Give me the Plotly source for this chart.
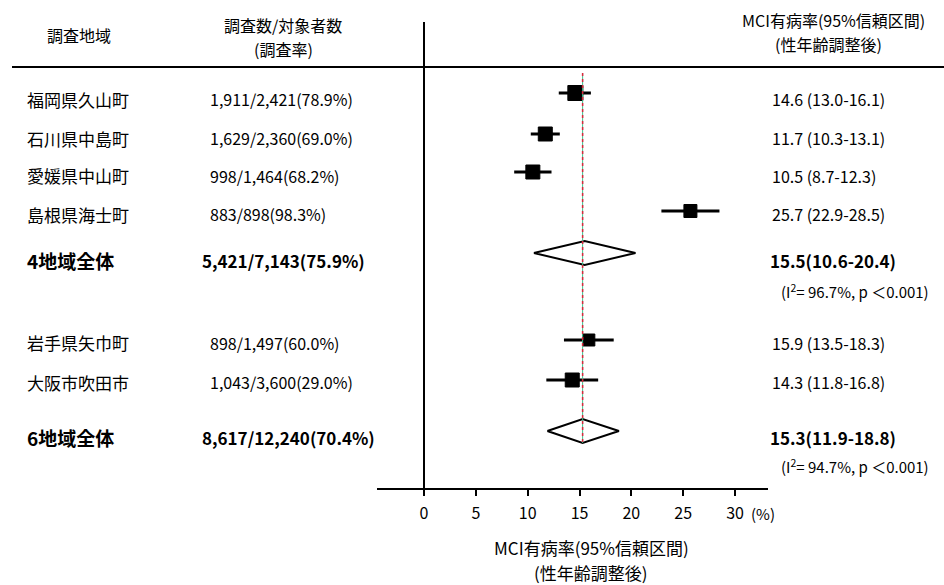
import plotly.graph_objects as go

# ---- study-level data -------------------------------------------------------
regions = ["福岡県久山町", "石川県中島町", "愛媛県中山町", "島根県海士町", "岩手県矢巾町", "大阪市吹田市"]
surveyed = [1911, 1629, 998, 883, 898, 1043]
targets = [2421, 2360, 1464, 898, 1497, 3600]
response_rate = [78.9, 69.0, 68.2, 98.3, 60.0, 29.0]
prevalence = [14.6, 11.7, 10.5, 25.7, 15.9, 14.3]
ci_low = [13.0, 10.3, 8.7, 22.9, 13.5, 11.8]
ci_high = [16.1, 13.1, 12.3, 28.5, 18.3, 16.8]

# ---- pooled estimates -------------------------------------------------------
pooled_labels = ["4地域全体", "6地域全体"]
pooled_surveyed = [5421, 8617]
pooled_targets = [7143, 12240]
pooled_rate = [75.9, 70.4]
pooled_est = [15.5, 15.3]
pooled_low = [10.6, 11.9]
pooled_high = [20.4, 18.8]
pooled_i2 = [96.7, 94.7]
pooled_p = ["0.001", "0.001"]

x_ticks = [0, 5, 10, 15, 20, 25, 30]

# ---- layout (pixel rows, y axis runs top->bottom) --------------------------
study_marker_y = [93, 134, 172, 211, 340, 380]
study_text_y = [99, 138, 176, 214, 343, 382]
study_marker_size = [15, 14, 14, 13, 12, 14]
pooled_marker_y = [253, 431]
pooled_text_y = [260, 437]
het_text_y = [291, 466]
diamond_half_h = 12

W, H = 944, 585
L, R = 377, 768          # plot area horizontal extent (px)
AX_Y = 488               # x-axis line (px)
PX0, PX30 = 424, 735     # pixel of 0% and 30%
scale = (PX30 - PX0) / 30.0
x_min = (L - PX0) / scale
x_max = (R - PX0) / scale

JP = "Noto Sans CJK JP"
NUM = "Noto Sans CJK JP"


def px_x(px):
    return (px - L) / (R - L)


def px_y(py):
    return (AX_Y - py) / AX_Y


fig = go.Figure()

# confidence intervals
for e, lo, hi, y in zip(prevalence, ci_low, ci_high, study_marker_y):
    fig.add_trace(go.Scatter(x=[lo, hi], y=[y, y], mode="lines",
                             line=dict(color="black", width=3),
                             hoverinfo="skip", showlegend=False))

# point estimates
fig.add_trace(go.Scatter(x=prevalence, y=study_marker_y, mode="markers",
                         marker=dict(symbol="square", color="black", opacity=1,
                                     size=study_marker_size,
                                     line=dict(color="black", width=1)),
                         showlegend=False))

# pooled diamonds
for e, lo, hi, y in zip(pooled_est, pooled_low, pooled_high, pooled_marker_y):
    fig.add_trace(go.Scatter(x=[lo, e, hi, e, lo],
                             y=[y, y - diamond_half_h, y, y + diamond_half_h, y],
                             mode="lines", line=dict(color="black", width=2),
                             hoverinfo="skip", showlegend=False))

# reference line at the overall pooled estimate
ref = pooled_est[-1]
ref_top, ref_bottom = 73, pooled_marker_y[-1] + diamond_half_h
fig.add_trace(go.Scatter(x=[ref, ref], y=[ref_top, ref_bottom], mode="lines",
                         line=dict(color="#3fbf8a", width=1),
                         hoverinfo="skip", showlegend=False))
fig.add_trace(go.Scatter(x=[ref, ref], y=[ref_top, ref_bottom], mode="lines",
                         line=dict(color="#d8283c", width=1.5, dash="dot"),
                         hoverinfo="skip", showlegend=False))

ann = []


def text(px, py, s, size, family, bold=False, anchor="left"):
    ann.append(dict(x=px_x(px), y=px_y(py), xref="paper", yref="paper",
                    text=s, showarrow=False, xanchor=anchor, yanchor="middle",
                    font=dict(size=size, family=family, color="black",
                              weight="bold" if bold else "normal")))


# headers
text(79, 35, "調査地域", 16, JP, anchor="center")
text(283, 25, "調査数/対象者数", 16, JP, anchor="center")
text(283, 49, "(調査率)", 16, JP, anchor="center")
text(833, 20, "MCI有病率(95%信頼区間)", 16, JP, anchor="center")
text(828, 44, "(性年齢調整後)", 16, JP, anchor="center")

# study rows
for name, s, t, r, e, lo, hi, y in zip(regions, surveyed, targets, response_rate,
                                       prevalence, ci_low, ci_high, study_text_y):
    text(25, y, name, 17, JP)
    text(208, y, f"{s:,}/{t:,}({r:.1f}%)", 16, NUM)
    text(770, y, f"{e:.1f} ({lo:.1f}-{hi:.1f})", 16, NUM)

# pooled rows
for name, s, t, r, e, lo, hi, i2, p, y, hy in zip(
        pooled_labels, pooled_surveyed, pooled_targets, pooled_rate,
        pooled_est, pooled_low, pooled_high, pooled_i2, pooled_p,
        pooled_text_y, het_text_y):
    text(25, y, name, 19, JP, bold=True)
    text(200, y, f"{s:,}/{t:,}({r:.1f}%)", 17, NUM, bold=True)
    text(768, y, f"{e:.1f}({lo:.1f}-{hi:.1f})", 17, NUM, bold=True)
    text(779, hy, f"(I<sup>2</sup>= {i2:.1f}%, p ＜{p})", 15, NUM)

# unit and axis title
text(763, 513, "(%)", 15, NUM, anchor="center")
text(591, 547, "MCI有病率(95%信頼区間)", 17, JP, anchor="center")
text(591, 572, "(性年齢調整後)", 17, JP, anchor="center")

# rules
shapes = [
    dict(type="line", xref="paper", yref="paper",
         x0=px_x(12), x1=px_x(W), y0=px_y(67), y1=px_y(67),
         line=dict(color="black", width=2)),
    dict(type="line", xref="paper", yref="paper",
         x0=px_x(PX0), x1=px_x(PX0), y0=px_y(22), y1=px_y(AX_Y + 6),
         line=dict(color="black", width=2)),
]

fig.update_layout(
    width=W, height=H,
    margin=dict(l=L, r=W - R, t=0, b=H - AX_Y),
    plot_bgcolor="white", paper_bgcolor="white",
    annotations=ann, shapes=shapes,
    xaxis=dict(range=[x_min, x_max], tickmode="array", tickvals=x_ticks,
               ticktext=[str(v) for v in x_ticks],
               showline=True, linecolor="black", linewidth=2,
               ticks="outside", ticklen=6, tickwidth=1.5, tickcolor="black",
               ticklabelstandoff=4,
               tickfont=dict(size=16, family=NUM, color="black"),
               showgrid=False, zeroline=False, fixedrange=True),
    yaxis=dict(range=[AX_Y, 0], visible=False, showgrid=False,
               zeroline=False, fixedrange=True),
    showlegend=False,
)

fig.write_html("out.html")
